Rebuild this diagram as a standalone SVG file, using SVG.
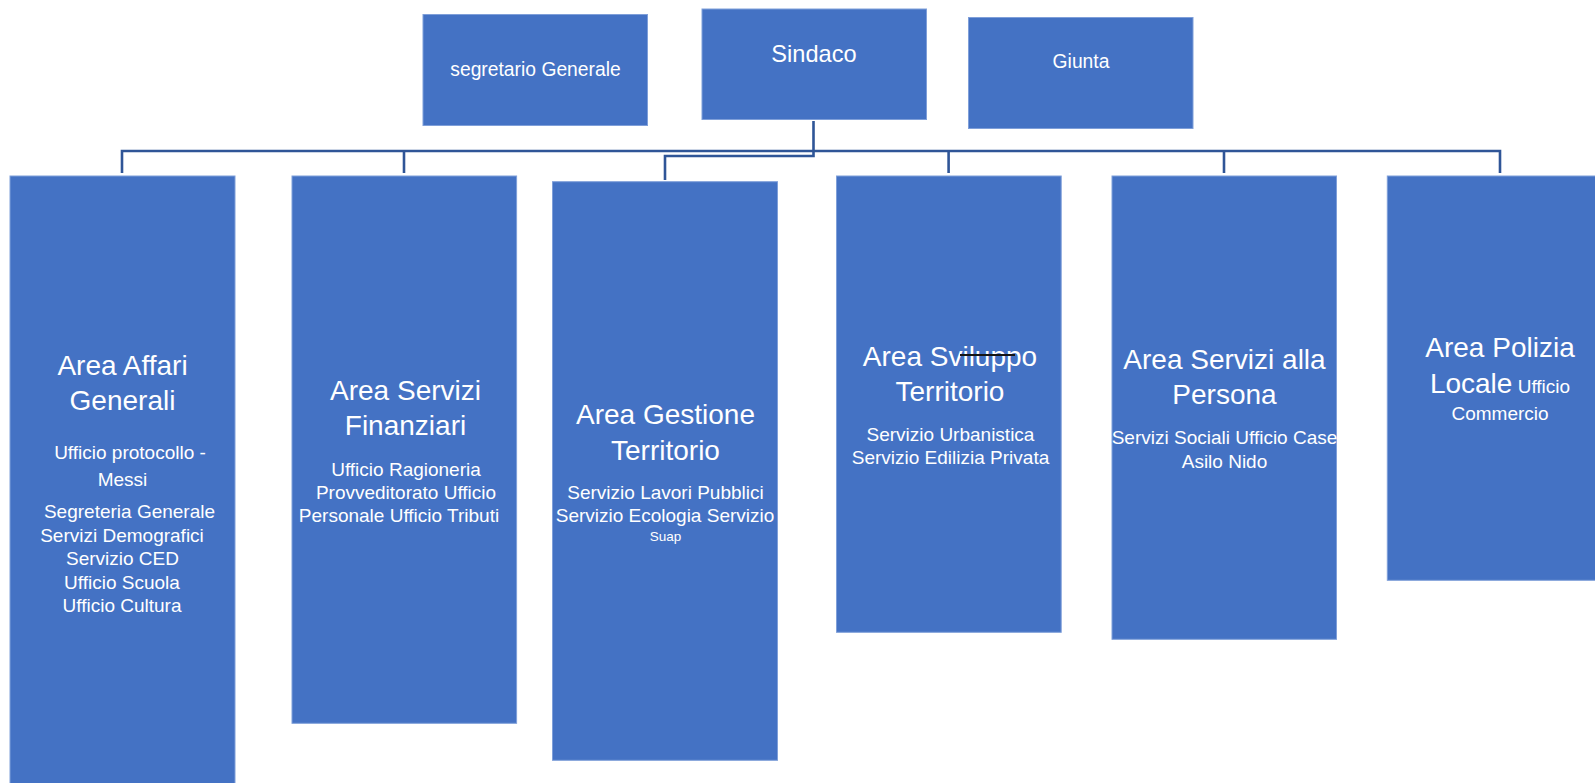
<svg xmlns="http://www.w3.org/2000/svg" width="1595" height="783" viewBox="0 0 1595 783">
<style>
.box{fill:#4472C4;stroke:#7F9FD9;stroke-width:1}
text{font-family:"Liberation Sans",Arial,sans-serif;fill:#ffffff;text-anchor:middle}
.t{font-size:28px}
.b{font-size:19px}
.s{font-size:13.5px}
.conn{fill:none;stroke:#2F5597;stroke-width:2.6}
</style>
<rect width="1595" height="783" fill="#ffffff"/>
<g id="connectors">
<path class="conn" d="M122 173V151H1500V173"/>
<path class="conn" d="M404 151V173"/>
<path class="conn" d="M948.6 151V173"/>
<path class="conn" d="M1224 151V173"/>
<path class="conn" d="M813.5 121V156H665V180"/>
</g>
<g id="segretario">
<rect class="box" x="423" y="14.5" width="224.5" height="111"/>
<text x="535.5" y="76" style="font-size:19.3px">segretario Generale</text>
</g>
<g id="sindaco">
<rect class="box" x="702" y="9" width="224.5" height="110.5"/>
<text x="814" y="61.5" style="font-size:23.6px">Sindaco</text>
</g>
<g id="giunta">
<rect class="box" x="968.5" y="17.5" width="224.5" height="111"/>
<text x="1081" y="67.5" style="font-size:19.3px">Giunta</text>
</g>
<g id="area-affari-generali">
<rect class="box" x="10" y="176" width="225" height="620"/>
<text class="t" x="122.5" y="375">Area Affari</text>
<text class="t" x="122.5" y="410">Generali</text>
<text class="b" x="130" y="459">Ufficio protocollo -</text>
<text class="b" x="122.5" y="486">Messi</text>
<text class="b" x="129.5" y="518">Segreteria Generale</text>
<text class="b" x="122" y="542">Servizi Demografici</text>
<text class="b" x="122.5" y="565">Servizio CED</text>
<text class="b" x="122" y="588.5">Ufficio Scuola</text>
<text class="b" x="122" y="612">Ufficio Cultura</text>
</g>
<g id="area-servizi-finanziari">
<rect class="box" x="292" y="176" width="224.6" height="547.3"/>
<text class="t" x="405.5" y="400">Area Servizi</text>
<text class="t" x="405.5" y="435">Finanziari</text>
<text class="b" x="406" y="475.5">Ufficio Ragioneria</text>
<text class="b" x="406" y="498.5">Provveditorato Ufficio</text>
<text class="b" x="399" y="522">Personale Ufficio Tributi</text>
</g>
<g id="area-gestione-territorio">
<rect class="box" x="552.5" y="181.7" width="225" height="578.6"/>
<text class="t" x="665.5" y="424">Area Gestione</text>
<text class="t" x="665.5" y="459.5">Territorio</text>
<text class="b" x="665.5" y="499">Servizio Lavori Pubblici</text>
<text class="b" x="665" y="521.5">Servizio Ecologia Servizio</text>
<text class="s" x="665.5" y="541">Suap</text>
</g>
<g id="area-sviluppo-territorio">
<rect class="box" x="836.5" y="176" width="224.7" height="456.3"/>
<text class="t" x="950" y="365.5">Area Sviluppo</text>
<path d="M960 355H1015" stroke="#141414" stroke-width="2"/>
<text class="t" x="950" y="400.5">Territorio</text>
<text class="b" x="950.5" y="441">Servizio Urbanistica</text>
<text class="b" x="950.5" y="464">Servizio Edilizia Privata</text>
</g>
<g id="area-servizi-persona">
<rect class="box" x="1112" y="176" width="224.5" height="463.3"/>
<text class="t" x="1224.5" y="368.5">Area Servizi alla</text>
<text class="t" x="1224.5" y="404">Persona</text>
<text class="b" x="1224.5" y="444">Servizi Sociali Ufficio Case</text>
<text class="b" x="1224.5" y="467.5">Asilo Nido</text>
</g>
<g id="area-polizia-locale">
<rect class="box" x="1387.3" y="176" width="225" height="404.3"/>
<text class="t" x="1500" y="356.5">Area Polizia</text>
<text x="1500" y="392.5"><tspan class="t">Locale</tspan><tspan class="b"> Ufficio</tspan></text>
<text class="b" x="1500" y="419.5">Commercio</text>
</g>
</svg>
